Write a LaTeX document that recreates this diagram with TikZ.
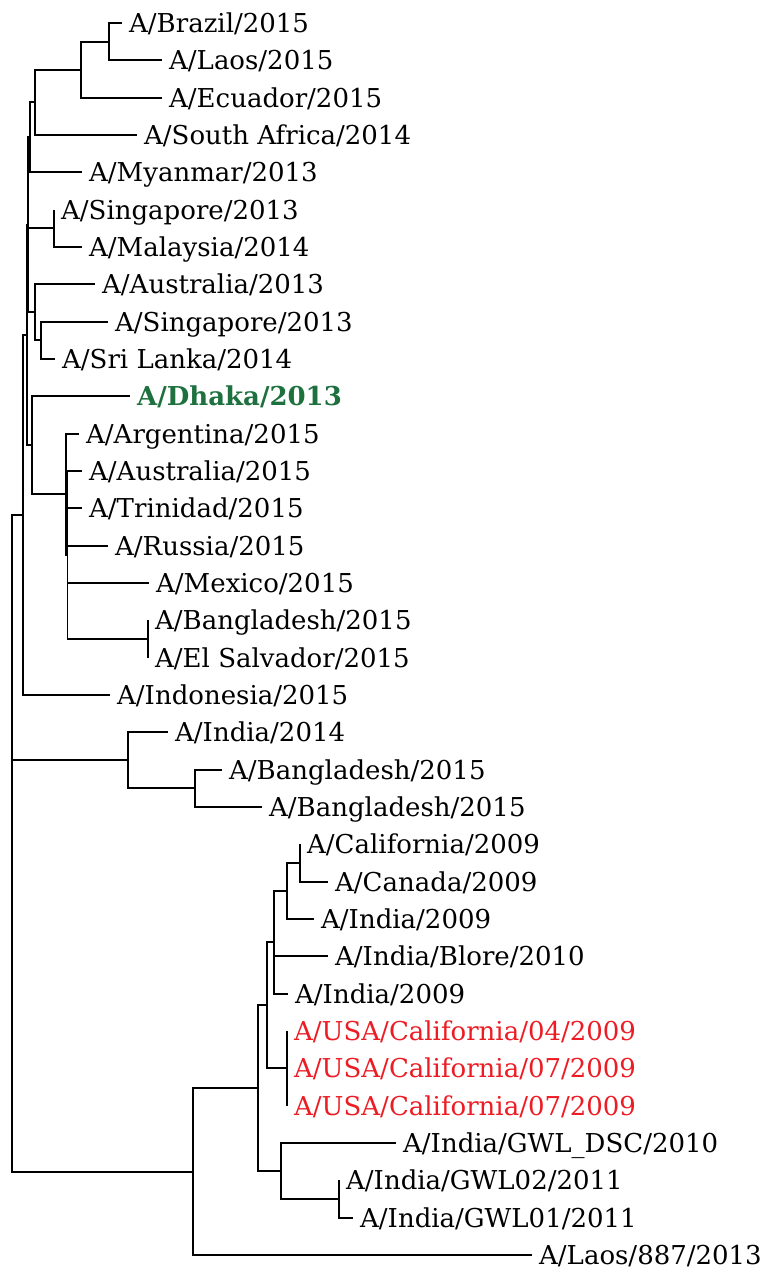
\documentclass[tikz,border=0pt]{standalone}
\usepackage{fontspec}
\setmainfont{DejaVu Serif}
\definecolor{dgreen}{RGB}{30,112,62}
\definecolor{lred}{RGB}{237,28,36}
\begin{document}
\begin{tikzpicture}[x=1pt,y=-1pt,
  br/.style={line width=1.9pt},
  leaf/.style={anchor=west, inner xsep=0pt, inner ysep=0pt, text height=19pt, text depth=0pt, font=\fontsize{26}{30}\selectfont, execute at begin node={\hspace*{7pt}}},
  hl/.style={leaf, text=dgreen, font=\fontsize{26}{30}\selectfont\bfseries},
  us/.style={leaf, text=lred}]
\useasboundingbox (0,0) rectangle (771,1268);
% leaves
\node[leaf] (l1) at (122,23.0) {A/Brazil/2015};
\node[leaf] (l2) at (162,60.3) {A/Laos/2015};
\node[leaf] (l3) at (162,97.7) {A/Ecuador/2015};
\node[leaf] (l4) at (137,135.0) {A/South Africa/2014};
\node[leaf] (l5) at (82,172.3) {A/Myanmar/2013};
\node[leaf] (l6) at (54,209.7) {A/Singapore/2013};
\node[leaf] (l7) at (82,247.0) {A/Malaysia/2014};
\node[leaf] (l8) at (95,284.3) {A/Australia/2013};
\node[leaf] (l9) at (108,321.7) {A/Singapore/2013};
\node[leaf] (l10) at (55,359.0) {A/Sri Lanka/2014};
\node[hl] (l11) at (130,396.3) {A/Dhaka/2013};
\node[leaf] (l12) at (79,433.7) {A/Argentina/2015};
\node[leaf] (l13) at (82,471.0) {A/Australia/2015};
\node[leaf] (l14) at (82,508.3) {A/Trinidad/2015};
\node[leaf] (l15) at (108,545.7) {A/Russia/2015};
\node[leaf] (l16) at (149,583.0) {A/Mexico/2015};
\node[leaf] (l17) at (148,620.3) {A/Bangladesh/2015};
\node[leaf] (l18) at (148,657.7) {A/El Salvador/2015};
\node[leaf] (l19) at (110,695.0) {A/Indonesia/2015};
\node[leaf] (l20) at (168,732.3) {A/India/2014};
\node[leaf] (l21) at (222,769.7) {A/Bangladesh/2015};
\node[leaf] (l22) at (262,807.0) {A/Bangladesh/2015};
\node[leaf] (l23) at (300,844.3) {A/California/2009};
\node[leaf] (l24) at (328,881.7) {A/Canada/2009};
\node[leaf] (l25) at (314,919.0) {A/India/2009};
\node[leaf] (l26) at (328,956.3) {A/India/Blore/2010};
\node[leaf] (l27) at (288,993.7) {A/India/2009};
\node[us] (l28) at (287,1031.0) {A/USA/California/04/2009};
\node[us] (l29) at (287,1068.3) {A/USA/California/07/2009};
\node[us] (l30) at (287,1105.7) {A/USA/California/07/2009};
\node[leaf] (l31) at (396,1143.0) {A/India/GWL\_DSC/2010};
\node[leaf] (l32) at (339,1180.3) {A/India/GWL02/2011};
\node[leaf] (l33) at (353,1217.7) {A/India/GWL01/2011};
\node[leaf] (l34) at (532,1255.0) {A/Laos/887/2013};
% internal nodes
\coordinate (BL) at (109,41.65);
\coordinate (BLE) at (81,69.68);
\coordinate (BLES) at (35,102.34);
\coordinate (N1) at (30,137.32);
\coordinate (S) at (54,228.35);
\coordinate (A1) at (41,340.35);
\coordinate (A2) at (35,312.33);
\coordinate (N3) at (27.8,224.83);
\coordinate (BES) at (148,639.0);
\coordinate (C2) at (67.5,555.0);
\coordinate (C1) at (66,494.35);
\coordinate (Dh) at (32,445.33);
\coordinate (N4) at (27,335.08);
\coordinate (N5) at (23,515.04);
\coordinate (I2) at (195,788.35);
\coordinate (I1) at (128,760.33);
\coordinate (P5) at (300,863.0);
\coordinate (P4) at (287,891.0);
\coordinate (P3) at (274,942.35);
\coordinate (USA) at (287,1068.35);
\coordinate (P2) at (267,1005.35);
\coordinate (G2) at (339,1199.0);
\coordinate (G) at (281,1171.0);
\coordinate (P1) at (258,1088.18);
\coordinate (P) at (193,1171.59);
\coordinate (R) at (12,843.3);
% branches
\draw[br] (BL) |- (l1.west) (BL) |- (l2.west);
\draw[br] (BLE) |- (BL) (BLE) |- (l3.west);
\draw[br] (BLES) |- (BLE) (BLES) |- (l4.west);
\draw[br] (N1) |- (BLES) (N1) |- (l5.west);
\draw[br] (S) |- (l6.west) (S) |- (l7.west);
\draw[br] (A1) |- (l9.west) (A1) |- (l10.west);
\draw[br] (A2) |- (l8.west) (A2) |- (A1);
\draw[br] (N3) |- (N1) (N3) |- (S) (N3) |- (A2);
\draw[br] (BES) |- (l17.west) (BES) |- (l18.west);
\draw[br] (C2) |- (l13.west) (C2) |- (l14.west) (C2) |- (l15.west) (C2) |- (l16.west) (C2) |- (BES);
\draw[br] (C1) |- (l12.west) (C1) |- (C2);
\draw[br] (Dh) |- (l11.west) (Dh) |- (C1);
\draw[br] (N4) |- (N3) (N4) |- (Dh);
\draw[br] (N5) |- (N4) (N5) |- (l19.west);
\draw[br] (I2) |- (l21.west) (I2) |- (l22.west);
\draw[br] (I1) |- (l20.west) (I1) |- (I2);
\draw[br] (P5) |- (l23.west) (P5) |- (l24.west);
\draw[br] (P4) |- (P5) (P4) |- (l25.west);
\draw[br] (P3) |- (P4) (P3) |- (l26.west) (P3) |- (l27.west);
\draw[br] (USA) |- (l28.west) (USA) |- (l29.west) (USA) |- (l30.west);
\draw[br] (P2) |- (P3) (P2) |- (USA);
\draw[br] (G2) |- (l32.west) (G2) |- (l33.west);
\draw[br] (G) |- (l31.west) (G) |- (G2);
\draw[br] (P1) |- (P2) (P1) |- (G);
\draw[br] (P) |- (P1) (P) |- (l34.west);
\draw[br] (R) |- (N5) (R) |- (I1) (R) |- (P);
\end{tikzpicture}
\end{document}
